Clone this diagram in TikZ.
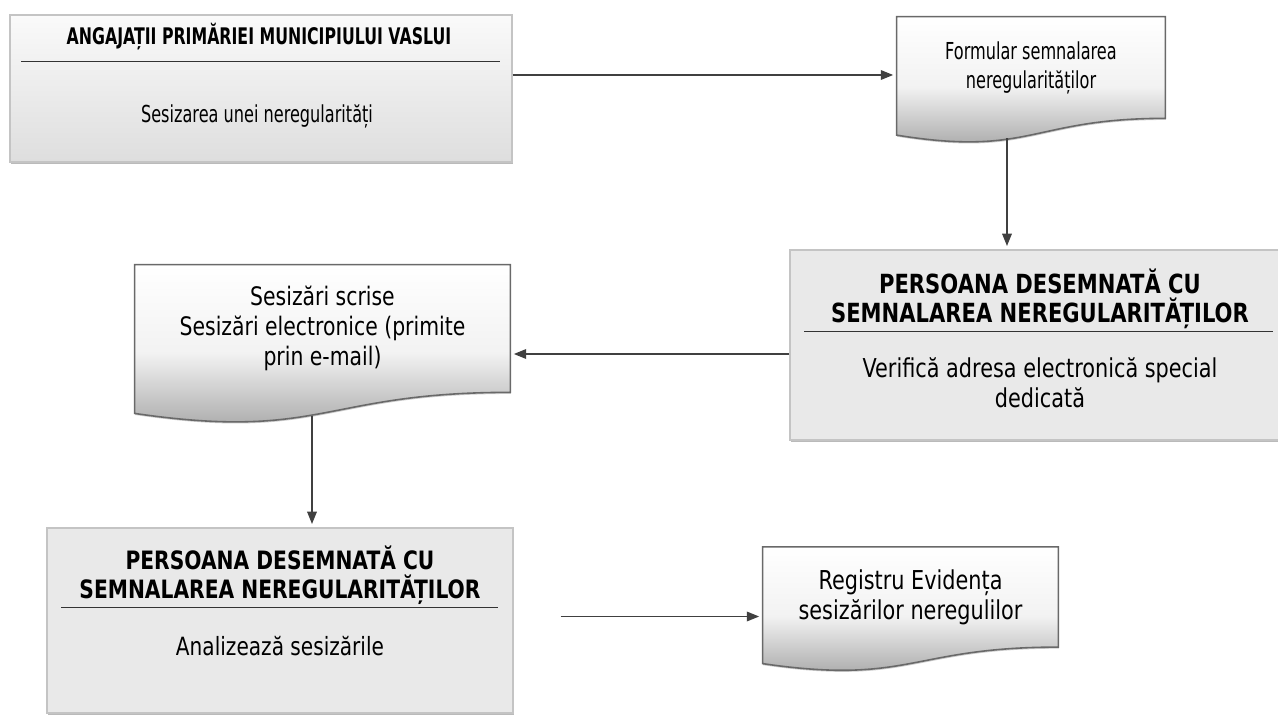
\documentclass[tikz,border=0pt]{standalone}
\usepackage{fontspec}
\setmainfont{DejaVu Sans}[FakeStretch=0.8]
\newfontfamily\narrowfont{DejaVu Sans}[FakeStretch=0.69]
\usetikzlibrary{positioning,calc,backgrounds,shadows,arrows.meta}
\definecolor{boxfill}{RGB}{233,233,233}
\definecolor{boxline}{RGB}{196,196,196}
\definecolor{docline}{RGB}{105,105,105}
\definecolor{docfill}{RGB}{158,158,158}
\definecolor{arrowgray}{RGB}{64,64,64}
\newcommand{\diagsmall}{\narrowfont\fontsize{13.3}{16.5}\selectfont}
\newcommand{\diagsmalltitle}{\narrowfont\fontsize{13}{16.5}\selectfont\bfseries}
\newcommand{\diagtext}{\fontsize{14.8}{17}\selectfont}
\newcommand{\diagtitle}{\fontsize{15}{16.5}\selectfont\bfseries}

\begin{document}
\begin{tikzpicture}[
    box/.style={draw=boxline, fill=boxfill, line width=0.6pt, drop shadow={shadow xshift=0.3pt, shadow yshift=-0.9pt, fill=black!45, opacity=0.6}},
    doc/.style={align=center, font=\diagtext, inner sep=0pt},
    docshape/.style={draw=docline, line width=0.9pt, top color=white, bottom color=docfill, middle color=black!5, drop shadow={shadow xshift=0.3pt, shadow yshift=-0.9pt, fill=black!40, opacity=0.5}},
    title/.style={font=\diagtitle, align=center, anchor=base, inner sep=0pt},
    txt/.style={font=\diagtext, align=center, anchor=base, inner sep=0pt},
    rule/.style={draw=black!80, line width=0.8pt},
    arrow/.style={-{Triangle[length=7pt,width=5.5pt]}, draw=arrowgray, line width=0.7pt, shorten >=2pt}
]
\useasboundingbox (0,0) rectangle (25.56,-14.32);

% Process boxes
\node[box, top color=black!2, bottom color=black!13, minimum width=10.04cm, minimum height=2.94cm] (staff) at (5.22,-1.77) {};
\node[box, minimum width=10.0cm, minimum height=3.8cm] (officer) at (20.8,-6.9) {};
\node[box, minimum width=9.32cm, minimum height=3.7cm] (review) at (5.6,-12.41) {};

% Box texts (base = last line)
\node[title, font=\diagsmalltitle] (staffT) at (5.18,-0.90) {ANGAJAȚII PRIMĂRIEI MUNICIPIULUI VASLUI};
\node[txt, font=\diagsmall] (staffB) at (5.14,-2.46) {Sesizarea unei neregularități};
\draw[rule] ($(staff.north west)+(0.24,-0.94)$) -- ($(staff.north east)+(-0.26,-0.94)$);

\node[title] (officerT) at (20.8,-6.44) {PERSOANA DESEMNATĂ CU\\SEMNALAREA NEREGULARITĂȚILOR};
\node[txt] (officerB) at (20.8,-8.14) {Verifică adresa electronică special\\dedicată};
\draw[rule] ($(officer.north west)+(0.3,-1.64)$) -- ($(officer.north east)+(-0.36,-1.64)$);

\node[title, font=\fontsize{14.4}{16.5}\selectfont\bfseries] (reviewT) at (5.6,-11.96) {PERSOANA DESEMNATĂ CU\\SEMNALAREA NEREGULARITĂȚILOR};
\node[txt, font=\fontsize{14.3}{17}\selectfont] (reviewB) at (5.6,-13.10) {Analizează sesizările};
\draw[rule] ($(review.north west)+(0.3,-1.6)$) -- ($(review.north east)+(-0.32,-1.6)$);

% Documents
\node[doc, font=\diagsmall, minimum width=5.36cm, minimum height=2.02cm] (form) at (20.62,-1.35) {Formular semnalarea\\neregularităților};
\node[doc, font=\fontsize{14.5}{17}\selectfont, minimum width=7.5cm, minimum height=2.54cm] (reports) at (6.45,-6.57) {Sesizări scrise\\Sesizări electronice (primite\\prin e-mail)};
\node[doc, minimum width=5.90cm, minimum height=1.99cm] (registry) at (18.21,-11.94) {Registru Evidența\\sesizărilor neregulilor};

\begin{scope}[on background layer]
\foreach \d in {form,reports,registry}
  \path[docshape] (\d.north west) -- (\d.north east) -- (\d.south east)
    .. controls (\d.south) and ($(\d.north)!1.381!(\d.south)$) .. ($(\d.north west)!1.165!(\d.south west)$) -- cycle;
\end{scope}

% Arrows
\coordinate (s1) at ([yshift=0.27cm]staff.east);
\draw[arrow] (s1) -- (s1 -| form.west);
\coordinate (f1) at ($(form.south)+(-0.48,-0.40)$);
\draw[arrow] (f1) -- (f1 |- officer.north);
\coordinate (o1) at ([yshift=-0.18cm]officer.west);
\draw[arrow] (o1) -- (o1 -| reports.east);
\coordinate (r1) at ($(reports.south)+(-0.21,-0.48)$);
\draw[arrow] (r1) -- (r1 |- review.north);
\coordinate (v1) at ([xshift=0.94cm,yshift=0.08cm]review.east);
\draw[arrow] (v1) -- (v1 -| registry.west);

\end{tikzpicture}
\end{document}
